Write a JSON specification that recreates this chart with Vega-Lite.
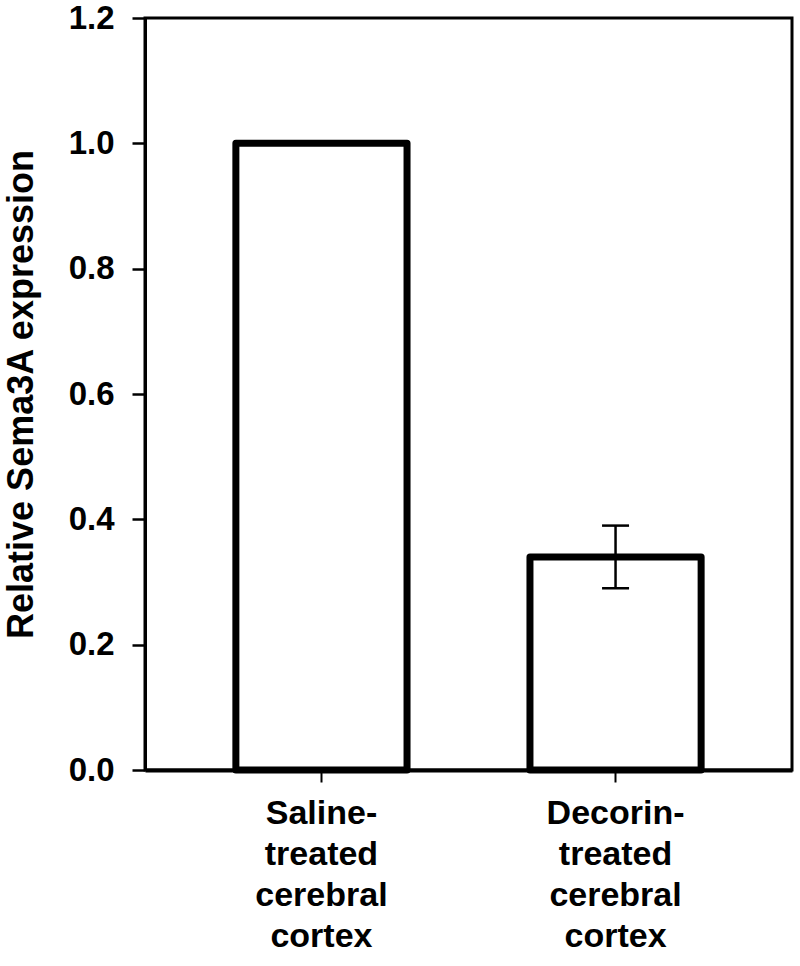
{
  "$schema": "https://vega.github.io/schema/vega-lite/v6.json",
  "autosize": {"type": "none"},
  "padding": {"left": 145, "top": 18, "right": 8, "bottom": 196},
  "width": 647,
  "height": 752,
  "background": "white",
  "config": {
    "view": {"stroke": "black", "strokeWidth": 3},
    "font": "Liberation Sans"
  },
  "data": {
    "values": [
      {"group": "Saline-|treated|cerebral|cortex", "value": 1.0, "lo": null, "hi": null},
      {"group": "Decorin-|treated|cerebral|cortex", "value": 0.34, "lo": 0.29, "hi": 0.39}
    ]
  },
  "encoding": {
    "x": {
      "field": "group",
      "type": "nominal",
      "sort": null,
      "scale": {"paddingInner": 0.418, "paddingOuter": 0.309},
      "axis": {
        "title": null,
        "labelAngle": 0,
        "labelExpr": "split(datum.label, '|')",
        "labelFont": "Liberation Sans",
        "labelFontWeight": "bold",
        "labelFontSize": 34,
        "labelColor": "black",
        "labelLineHeight": 41,
        "labelPadding": 14,
        "labelBaseline": "top",
        "tickSize": 12,
        "tickWidth": 2,
        "tickColor": "black",
        "domainColor": "black",
        "domainWidth": 4
      }
    }
  },
  "layer": [
    {
      "mark": {"type": "bar", "fill": "white", "stroke": "black", "strokeWidth": 7, "strokeJoin": "round"},
      "encoding": {
        "y": {
          "field": "value",
          "type": "quantitative",
          "scale": {"domain": [0, 1.2], "nice": false},
          "axis": {
            "title": "Relative Sema3A expression",
            "titleFont": "Liberation Sans",
            "titleFontSize": 36,
            "titleFontWeight": "bold",
            "titleColor": "black",
            "titlePadding": 28,
            "values": [0, 0.2, 0.4, 0.6, 0.8, 1.0, 1.2],
            "format": ".1f",
            "labelFont": "Liberation Sans",
            "labelFontWeight": "bold",
            "labelFontSize": 33,
            "labelColor": "black",
            "labelPadding": 18,
            "tickSize": 13,
            "tickWidth": 2.5,
            "tickColor": "black",
            "domainColor": "black",
            "domainWidth": 3,
            "grid": false
          }
        }
      }
    },
    {
      "transform": [{"filter": "datum.lo != null"}],
      "mark": {"type": "rule", "color": "black", "strokeWidth": 2.5},
      "encoding": {
        "y": {"field": "lo", "type": "quantitative"},
        "y2": {"field": "hi"}
      }
    },
    {
      "transform": [{"filter": "datum.lo != null"}],
      "mark": {"type": "tick", "color": "black", "opacity": 1, "thickness": 2.5, "size": 27, "orient": "horizontal"},
      "encoding": {
        "y": {"field": "lo", "type": "quantitative"}
      }
    },
    {
      "transform": [{"filter": "datum.hi != null"}],
      "mark": {"type": "tick", "color": "black", "opacity": 1, "thickness": 2.5, "size": 27, "orient": "horizontal"},
      "encoding": {
        "y": {"field": "hi", "type": "quantitative"}
      }
    }
  ]
}
